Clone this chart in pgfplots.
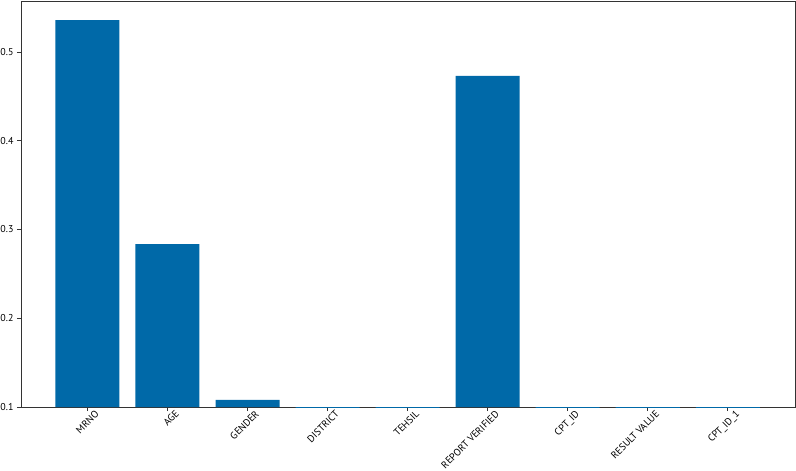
\documentclass[border=0pt]{standalone}
\usepackage{pgfplots}
\pgfplotsset{compat=1.18}
\usepackage{fontspec}
\setmainfont{PT Sans}
\definecolor{barblue}{HTML}{0069A8}
\definecolor{framegrey}{HTML}{333333}

\pgfplotstableread{
x val
0 0.536
1 0.2835
2 0.108
3 0
4 0
5 0.473
6 0
7 0
8 0
}\featuredata

\begin{document}
\begin{tikzpicture}
\useasboundingbox (-21bp,-64bp) rectangle (775bp,407bp);
\begin{axis}[
  at={(0,0)}, anchor=south west,
  scale only axis,
  width=774bp, height=406bp,
  xmin=-0.83, xmax=8.84,
  ymin=0.1, ymax=0.5575,
  axis line style={framegrey, line width=0.9pt},
  xtick=data,
  xticklabels={MRNO, AGE, GENDER, DISTRICT, TEHSIL, REPORT VERIFIED, CPT\_ID, RESULT VALUE, CPT\_ID\_1},
  ytick={0.1,0.2,0.3,0.4,0.5},
  yticklabel style={/pgf/number format/fixed, /pgf/number format/precision=1, font=\fontsize{10}{12}\selectfont},
  /pgf/number format/assume math mode=true,
  tick align=outside,
  tick pos=left,
  major tick length=4bp,
  tick style={framegrey, line width=0.6pt},
  ticklabel style={text=black},
  xticklabel style={font=\fontsize{10}{12}\selectfont, rotate=45, anchor=north east, xshift=7bp, yshift=-3bp, inner sep=1bp},
  clip=true,
]
\addplot[ybar, bar width=0.8, fill=barblue, draw=none] table[x=x, y=val] {\featuredata};
\end{axis}
\end{tikzpicture}
\end{document}
